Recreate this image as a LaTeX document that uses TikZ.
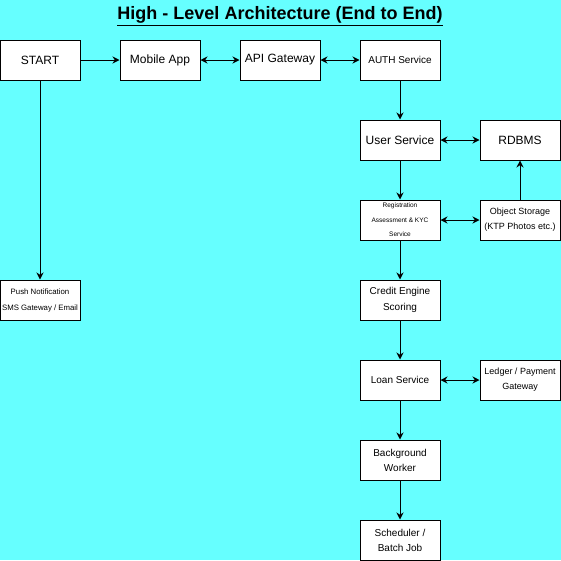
\documentclass[tikz,border=0pt]{standalone}
\usepackage{fontspec}
\setmainfont{Liberation Sans}
\usetikzlibrary{arrows.meta}
\definecolor{bgcyan}{HTML}{66FFFF}
\tikzset{
  box/.style={draw=black, fill=white, line width=1pt, minimum width=80pt, minimum height=40pt, inner sep=1pt, align=center},
  conn/.style={line width=1pt, -{Stealth[length=7pt,width=7pt]}},
  bconn/.style={line width=1pt, {Stealth[length=7pt,width=7pt]}-{Stealth[length=7pt,width=7pt]}},
}
\newcommand{\fs}[2]{\fontsize{#1}{#2}\selectfont}
\begin{document}
\begin{tikzpicture}[x=1pt,y=-1pt]
\fill[bgcyan] (0,0) rectangle (561,560);
\useasboundingbox (0,0) rectangle (561,560);
\node[font=\fs{18}{21}\bfseries] (title) at (280,16) {\underline{High - Level Architecture (End to End)}};
\node[box, font=\fs{12}{14}] (start) at (40,60) {START};
\node[box, font=\fs{12}{14}] (mobile) at (160,60) {Mobile App};
\node[box, font=\fs{12}{14}] (api) at (280,60) {API Gateway};
\node[box, font=\fs{10}{12}] (auth) at (400,60) {AUTH Service};
\node[box, font=\fs{12}{14}] (user) at (400,140) {User Service};
\node[box, font=\fs{12}{14}] (rdbms) at (520,140) {RDBMS};
\node[box, font=\fs{6.5}{14.5}] (reg) at (400,220) {Registration\\Assessment \& KYC\\Service};
\node[box, font=\fs{9}{15}] (obj) at (520,220) {Object Storage\\(KTP Photos etc.)};
\node[box, font=\fs{10}{16}] (credit) at (400,300) {Credit Engine\\Scoring};
\node[box, font=\fs{10}{12}] (loan) at (400,380) {Loan Service};
\node[box, font=\fs{9}{15}] (ledger) at (520,380) {Ledger / Payment\\Gateway};
\node[box, font=\fs{10}{15}] (bg) at (400,460) {Background\\Worker};
\node[box, font=\fs{10}{15}] (sched) at (400,540) {Scheduler /\\Batch Job};
\node[box, font=\fs{7.8}{16}] (push) at (40,300) {Push Notification\\SMS Gateway / Email};
\draw[conn] (start) -- (mobile);
\draw[bconn] (mobile) -- (api);
\draw[bconn] (api) -- (auth);
\draw[conn] (auth) -- (user);
\draw[bconn] (user) -- (rdbms);
\draw[conn] (user) -- (reg);
\draw[bconn] (reg) -- (obj);
\draw[conn] (obj) -- (rdbms);
\draw[conn] (reg) -- (credit);
\draw[conn] (credit) -- (loan);
\draw[bconn] (loan) -- (ledger);
\draw[conn] (loan) -- (bg);
\draw[conn] (bg) -- (sched);
\draw[conn] (start) -- (push);
\end{tikzpicture}
\end{document}
